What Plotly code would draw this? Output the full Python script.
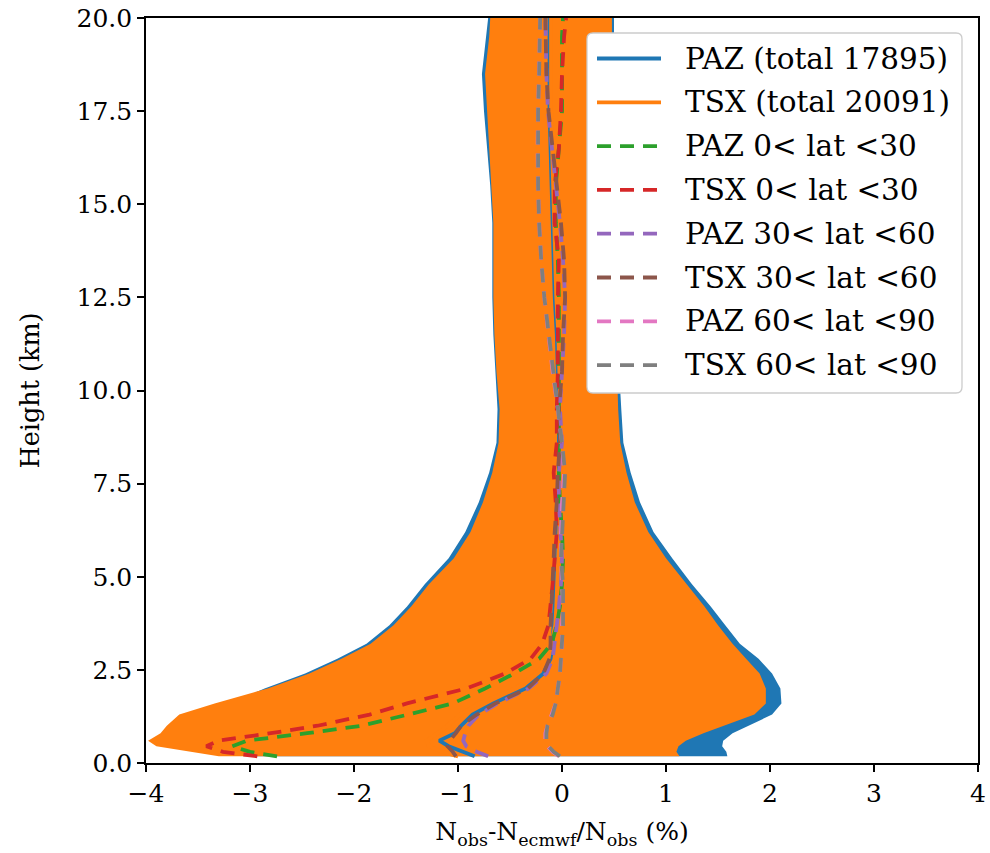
import plotly.graph_objects as go

# Height levels (km) shared by all profiles
heights = [0.18, 0.3, 0.45, 0.6, 0.8, 1.0, 1.3, 1.6, 2.0, 2.4, 2.8, 3.2, 3.7, 4.2, 4.8, 5.5,
           6.2, 7.0, 7.8, 8.6, 9.5, 10.5, 11.5, 12.5, 13.5, 14.5, 15.5, 16.5, 17.5, 18.5, 19.5, 20.0]

# Spread envelopes of the total statistics (%)
paz_lo = [-3.00, -3.30, -3.60, -3.70, -3.60, -3.55, -3.45, -3.20, -2.86, -2.47, -2.16, -1.88, -1.66, -1.49, -1.32, -1.09,
          -0.93, -0.80, -0.70, -0.63, -0.62, -0.64, -0.66, -0.67, -0.67, -0.67, -0.69, -0.72, -0.75, -0.77, -0.73, -0.71]
paz_hi = [1.59, 1.58, 1.54, 1.55, 1.64, 1.79, 2.02, 2.11, 2.10, 2.02, 1.89, 1.71, 1.57, 1.43, 1.25, 1.06,
          0.88, 0.75, 0.66, 0.59, 0.57, 0.55, 0.54, 0.53, 0.52, 0.52, 0.52, 0.52, 0.51, 0.51, 0.50, 0.50]
tsx_lo = [-3.30, -3.58, -3.90, -3.98, -3.86, -3.80, -3.68, -3.34, -2.83, -2.43, -2.12, -1.84, -1.62, -1.45, -1.28, -1.04,
          -0.88, -0.76, -0.67, -0.61, -0.60, -0.63, -0.65, -0.66, -0.66, -0.66, -0.68, -0.70, -0.72, -0.74, -0.70, -0.69]
tsx_hi = [1.13, 1.10, 1.12, 1.19, 1.36, 1.55, 1.85, 1.96, 1.96, 1.90, 1.77, 1.64, 1.50, 1.37, 1.20, 1.00,
          0.83, 0.70, 0.62, 0.56, 0.54, 0.53, 0.52, 0.51, 0.50, 0.50, 0.50, 0.50, 0.49, 0.49, 0.48, 0.48]

# Mean profiles (%)
paz_mean = [-0.84, -0.96, -1.09, -1.18, -1.03, -0.97, -0.86, -0.66, -0.35, -0.18, -0.11, -0.09, -0.08, -0.07, -0.06, -0.05,
            -0.04, -0.03, -0.03, -0.03, -0.03, -0.04, -0.05, -0.07, -0.08, -0.09, -0.10, -0.11, -0.12, -0.12, -0.12, -0.12]
tsx_mean = [-1.00, -1.15, -1.28, -1.30, -1.20, -1.10, -0.98, -0.80, -0.45, -0.25, -0.13, -0.10, -0.065, -0.055, -0.045, -0.035,
            -0.025, -0.015, -0.015, -0.015, -0.015, -0.025, -0.035, -0.055, -0.065, -0.075, -0.085, -0.095, -0.105, -0.105, -0.105, -0.105]
paz_lat0_30 = [-2.74, -3.00, -3.17, -3.03, -2.45, -1.93, -1.48, -1.05, -0.74, -0.46, -0.22, -0.10, -0.05, -0.02, 0.00, 0.01,
               0.00, -0.02, -0.03, -0.03, -0.03, -0.03, -0.03, -0.03, -0.04, -0.06, -0.06, -0.03, 0.00, 0.00, 0.00, 0.01]
tsx_lat0_30 = [-2.93, -3.26, -3.42, -3.30, -2.80, -2.35, -1.85, -1.49, -0.92, -0.55, -0.30, -0.19, -0.13, -0.11, -0.09, -0.07,
               -0.05, -0.06, -0.08, -0.05, -0.05, -0.04, -0.04, -0.04, -0.03, -0.07, -0.07, -0.03, -0.01, 0.00, 0.02, 0.04]
paz_lat30_60 = [-0.71, -0.82, -0.92, -0.95, -0.93, -0.90, -0.80, -0.62, -0.32, -0.15, -0.09, -0.07, -0.05, -0.03, -0.01, 0.00,
                -0.01, -0.03, -0.03, 0.00, -0.02, 0.00, 0.02, 0.03, 0.01, -0.02, -0.06, -0.10, -0.135, -0.15, -0.155, -0.16]
tsx_lat30_60 = [-1.02, -1.05, -1.10, -1.08, -1.02, -0.97, -0.82, -0.64, -0.33, -0.18, -0.12, -0.11, -0.11, -0.10, -0.09, -0.08,
                -0.07, -0.05, -0.04, -0.02, -0.03, 0.00, 0.01, 0.03, 0.02, -0.01, -0.05, -0.09, -0.13, -0.15, -0.16, -0.16]
paz_lat60_90 = [-0.03, -0.09, -0.14, -0.16, -0.16, -0.14, -0.10, -0.06, -0.04, -0.02, -0.01, 0.00, 0.00, 0.01, 0.00, -0.01,
                -0.01, 0.00, 0.02, 0.00, -0.04, -0.09, -0.13, -0.17, -0.20, -0.22, -0.23, -0.235, -0.23, -0.22, -0.21, -0.21]
tsx_lat60_90 = [-0.02, -0.08, -0.13, -0.15, -0.15, -0.14, -0.09, -0.06, -0.04, -0.02, -0.01, 0.00, 0.01, 0.01, 0.01, -0.01,
                0.00, 0.01, 0.03, 0.00, -0.04, -0.08, -0.13, -0.17, -0.20, -0.22, -0.23, -0.23, -0.23, -0.22, -0.21, -0.21]

labels = ["PAZ (total 17895)", "TSX (total 20091)", "PAZ 0< lat <30", "TSX 0< lat <30",
          "PAZ 30< lat <60", "TSX 30< lat <60", "PAZ 60< lat <90", "TSX 60< lat <90"]
colors = ["#1f77b4", "#ff7f0e", "#2ca02c", "#d62728", "#9467bd", "#8c564b", "#e377c2", "#7f7f7f"]
x_ticks = [-4, -3, -2, -1, 0, 1, 2, 3, 4]
y_ticks = [0, 2.5, 5, 7.5, 10, 12.5, 15, 17.5, 20]

FONT = "DejaVu Serif"
LW = 3.8
DASH = "14px,9px"

fig = go.Figure()

# Shaded spread bands
for lo, hi, col in [(paz_lo, paz_hi, colors[0]), (tsx_lo, tsx_hi, colors[1])]:
    fig.add_trace(go.Scatter(x=lo + hi[::-1], y=heights + heights[::-1], fill="toself",
                             fillcolor=col, line=dict(width=0), mode="lines",
                             hoverinfo="skip", showlegend=False))

# Mean profiles
profiles = [paz_mean, tsx_mean, paz_lat0_30, tsx_lat0_30,
            paz_lat30_60, tsx_lat30_60, paz_lat60_90, tsx_lat60_90]
for i, prof in enumerate(profiles):
    fig.add_trace(go.Scatter(x=prof, y=heights, mode="lines", name=labels[i],
                             line=dict(color=colors[i], width=LW,
                                       dash="solid" if i < 2 else DASH),
                             showlegend=False))

# Legend box drawn in the upper right of the plot area
W, H = 990, 853
ML, MR, MT, MB = 146, 12, 18, 90
pw, ph = W - ML - MR, H - MT - MB


def px(x):
    return (x - ML) / pw


def py(y):
    return 1 - (y - MT) / ph


bx0, bx1, by0, by1, rad = 587, 962, 33, 393, 6
rx, ry = rad / pw, rad / ph
X0, X1, Y0, Y1 = px(bx0), px(bx1), py(by0), py(by1)
box = (f"M {X0+rx},{Y0} L {X1-rx},{Y0} Q {X1},{Y0} {X1},{Y0-ry} "
       f"L {X1},{Y1+ry} Q {X1},{Y1} {X1-rx},{Y1} L {X0+rx},{Y1} Q {X0},{Y1} {X0},{Y1+ry} "
       f"L {X0},{Y0-ry} Q {X0},{Y0} {X0+rx},{Y0} Z")
shapes = [dict(type="path", path=box, xref="paper", yref="paper",
               fillcolor="white", line=dict(color="#cccccc", width=1.3), layer="above")]
annotations = []
row0, step = 58.5, 43.8
for i, lab in enumerate(labels):
    yr = py(row0 + i * step)
    shapes.append(dict(type="line", xref="paper", yref="paper",
                       x0=px(597), x1=px(661), y0=yr, y1=yr, layer="above",
                       line=dict(color=colors[i], width=LW,
                                 dash="solid" if i < 2 else DASH)))
    annotations.append(dict(text=lab, x=px(683), y=yr, xref="paper", yref="paper",
                            xanchor="left", yanchor="middle", showarrow=False,
                            font=dict(family=FONT, size=29.5, color="black")))

axis_common = dict(showgrid=False, zeroline=False, showline=True, linecolor="black",
                   linewidth=1.6, mirror=True, ticks="outside", ticklen=7, tickwidth=1.6,
                   tickcolor="black", automargin=False,
                   tickfont=dict(family=FONT, size=25, color="black"))

fig.update_layout(
    width=W, height=H,
    margin=dict(l=ML, r=MR, t=MT, b=MB),
    plot_bgcolor="white", paper_bgcolor="white",
    showlegend=False,
    font=dict(family=FONT, size=25, color="black"),
    shapes=shapes, annotations=annotations,
    xaxis=dict(range=[-4, 4], tickvals=x_ticks, tickformat="d",
               title=dict(text="N<sub>obs</sub>-N<sub>ecmwf</sub>/N<sub>obs</sub> (%)",
                          font=dict(family=FONT, size=25), standoff=16),
               **axis_common),
    yaxis=dict(range=[0, 20], tickvals=y_ticks, tickformat=".1f",
               title=dict(text="Height (km)", font=dict(family=FONT, size=25.5), standoff=30),
               **axis_common),
)

fig.write_html("out.html")
